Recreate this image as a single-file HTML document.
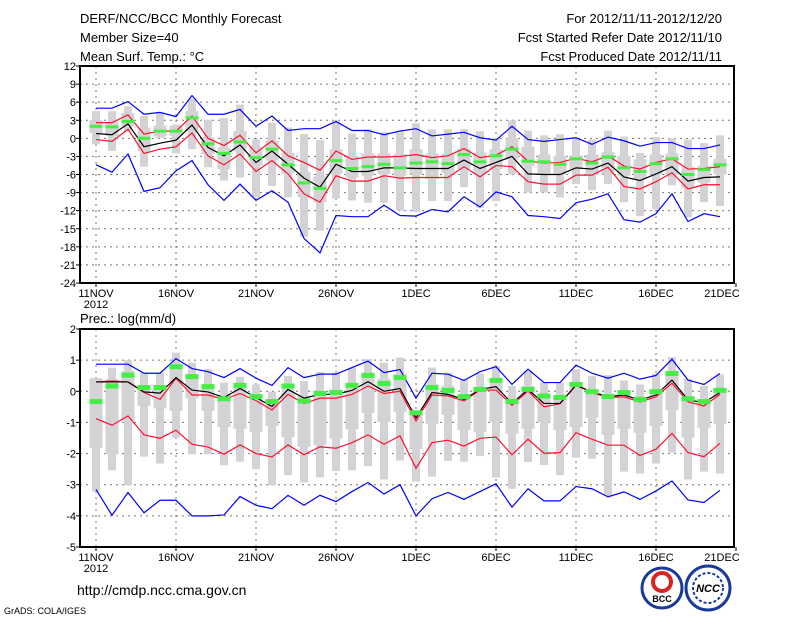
<!DOCTYPE html>
<html><head><meta charset="utf-8"><style>
body{margin:0;background:#fff;width:800px;height:618px;overflow:hidden}
svg text{font-family:"Liberation Sans",sans-serif;fill:#000}
</style></head><body>
<svg id="c" width="800" height="618" xmlns="http://www.w3.org/2000/svg">
<text x="80" y="23" font-size="13">DERF/NCC/BCC Monthly Forecast</text>
<text x="80" y="42" font-size="13">Member Size=40</text>
<text x="80" y="61" font-size="13">Mean Surf. Temp.: °C</text>
<text x="722" y="23" font-size="13" text-anchor="end">For 2012/11/11-2012/12/20</text>
<text x="722" y="42" font-size="13" text-anchor="end">Fcst Started Refer Date 2012/11/10</text>
<text x="722" y="61" font-size="13" text-anchor="end">Fcst Produced Date 2012/11/11</text>
<text x="80" y="323" font-size="13">Prec.: log(mm/d)</text>
<text x="77" y="595" font-size="14">http://cmdp.ncc.cma.gov.cn</text>
<text x="4" y="614" font-size="9">GrADS: COLA/IGES</text>
<g><circle cx="662" cy="588" r="20" fill="#fff" stroke="#1a3a9a" stroke-width="3"/><circle cx="662" cy="582" r="9" fill="none" stroke="#d22" stroke-width="4"/><text x="662" y="602" font-size="9" text-anchor="middle" font-weight="bold">BCC</text></g>
<g><circle cx="708" cy="588" r="22" fill="#fff" stroke="#1a3a9a" stroke-width="3"/><circle cx="708" cy="588" r="15" fill="none" stroke="#1a3a9a" stroke-width="2" stroke-dasharray="3 2"/><text x="708" y="592" font-size="11" text-anchor="middle" font-weight="bold" font-style="italic" fill="#1a3a9a">NCC</text></g>
</svg>
<script>
// ---- temperature data ----
const tBlueHi=[5,5,6.1,4,4.3,3.6,7.1,4,4,4.8,2,3.7,1.3,1.6,1.6,2.8,1.3,1.3,0.6,1.2,1.6,0.4,0.7,1.0,0.1,-0.3,2.0,-0.2,-0.5,-0.2,0.1,-1.0,0.2,-0.4,-1.3,-0.7,-0.7,-1.7,-1.7,-1.1];
const tBlueLo=[-4.4,-5.6,-2.6,-8.8,-8.2,-5.4,-3.7,-7.7,-10.3,-7.6,-10.3,-8.7,-10.6,-16.6,-19,-12.8,-13,-13,-11.1,-12.8,-12.9,-11.8,-12.2,-9.7,-11.4,-8.9,-9.7,-12.8,-13,-13.3,-10.7,-10.1,-9.2,-13.5,-13.9,-12.5,-9.2,-13.8,-12.5,-13];
const tRedHi=[2.6,2.6,3.9,0.7,1.2,1.2,3.7,0,-1.2,0.5,-2.4,-0.4,-2.9,-4,-5.3,-2.1,-3.5,-3.1,-3.1,-3,-2.7,-3.2,-2.9,-1.7,-3.2,-2.8,-1.4,-3.8,-4.1,-4,-3.3,-3.9,-2.9,-4.6,-5.1,-4,-3.4,-5.1,-5,-4.7];
const tRedLo=[-0.2,-0.5,1.5,-2.5,-1.8,-1.4,0.9,-2.9,-4.4,-2.6,-5.5,-3.7,-5.9,-9.2,-10.6,-6.2,-7.1,-7.1,-6.2,-6.6,-6.5,-6.5,-6.5,-4.7,-6.4,-4.5,-4.7,-7.2,-7.6,-7.6,-6.1,-6.1,-4.8,-8,-8.4,-7.2,-5.7,-8.4,-7.7,-7.7];
const tMean=[0.8,0.6,2.4,-1.4,-0.8,-0.3,2.2,-1.5,-2.9,-1.1,-4,-2.1,-4.3,-6.6,-8.1,-4.3,-5.5,-5.5,-4.9,-4.9,-5,-5,-5,-3.6,-5,-4,-3,-5.9,-6,-6,-4.9,-5.1,-4.1,-6.4,-7,-5.9,-4.7,-7.1,-6.5,-6.4];
const tObs=[2.0,1.9,2.8,0,1.2,1.2,3.4,-0.9,-2.5,-0.6,-3.2,-1.8,-4.4,-7.4,-8.3,-3.7,-5,-4.7,-4.3,-4.9,-4.1,-3.9,-4.2,-2.7,-3.9,-2.9,-1.8,-3.8,-3.9,-4.3,-3.4,-4.1,-3.1,-4.9,-5.5,-4.2,-3.4,-6,-5.2,-4.4];
const tWTop=[4.5,4.5,5.3,3.7,4.2,2.3,6.6,3.1,3.4,5.6,-0.2,2.6,1.8,0.7,-0.3,2.8,0.8,1.5,1,1,2.5,1.5,1.5,1.5,1.2,0.1,3,1.3,0.5,0.7,-0.2,-0.2,1.3,0.3,-2.4,0.2,0,-0.2,-0.8,0.5];
const tWBot=[-1,-2.1,1.2,-4.7,0.1,-2.5,-1.8,-4.8,-7,-6.5,-9.8,-7.9,-9.8,-16.3,-15.3,-10,-10.3,-10.7,-10.7,-12,-12.2,-10.4,-10.4,-8.1,-11.5,-10.4,-6,-9,-9,-9.8,-7.6,-8.6,-7.6,-10.6,-12.9,-11.8,-7.8,-13.1,-10.6,-11.2];
const tBTop=[3,2.7,4.2,1.8,2.1,2.1,4.5,0.1,-1.5,1.2,-1.5,-0.4,-2.4,-5.6,-6.3,-1.8,-2.9,-2.5,-2.5,-2.6,-1.8,-2.5,-2.6,-1.7,-2.4,-1.8,0,-1.4,-2.7,-2.9,-2.8,-2.7,-2.3,-2.9,-3.5,-2.7,-2.5,-4.7,-4.6,-3.4];
const tBBot=[0.9,0.4,2,-2.1,0.3,0.4,1.2,-2.6,-5.1,-2.2,-4.5,-3.7,-5.9,-9.8,-10.6,-5.9,-6.5,-6.2,-5.9,-6.2,-6,-6.8,-5.8,-5.1,-6,-5.1,-3.5,-4.6,-6,-6,-5.1,-6.1,-6,-6.2,-6.8,-6,-6,-8.2,-7.3,-6];
const tTicks=[12,9,6,3,0,-3,-6,-9,-12,-15,-18,-21,-24];
// ---- precipitation data ----
const pBlueHi=[0.87,0.87,0.87,0.58,0.58,1.05,0.73,0.63,0.44,0.73,0.42,0.19,0.76,0.44,0.55,0.55,0.76,0.97,0.6,0.7,-0.22,0.58,0.55,0.35,0.63,0.79,0.22,0.71,0.28,0.28,0.84,0.58,0.42,0.58,0.39,0.51,1.03,0.36,0.22,0.57];
const pBlueLo=[-3.15,-3.98,-3.25,-3.9,-3.5,-3.5,-4,-4,-3.97,-3.38,-3.66,-3.77,-3.34,-3.66,-3.34,-3.54,-3.22,-2.93,-3.3,-3.0,-4,-3.45,-3.25,-3.47,-3.22,-2.97,-3.72,-3.13,-3.52,-3.52,-3.06,-3.13,-3.39,-3.23,-3.47,-3.2,-2.88,-3.49,-3.57,-3.18];
const pRedHi=[0.3,0.33,0.3,-0.04,-0.26,0.42,-0.12,-0.12,-0.26,-0.07,-0.3,-0.6,-0.1,-0.39,-0.22,-0.22,-0.1,0.17,-0.07,0,-0.95,-0.12,-0.15,-0.31,0.04,0.04,-0.45,0.01,-0.5,-0.4,0.19,-0.04,-0.2,-0.18,-0.34,-0.18,0.26,-0.34,-0.47,-0.1];
const pRedLo=[-0.88,-1.09,-0.79,-1.4,-1.51,-1.25,-1.7,-1.79,-2.02,-1.72,-2,-2.11,-1.72,-2.04,-1.78,-1.83,-1.65,-1.4,-1.7,-1.43,-2.47,-1.65,-1.57,-1.76,-1.51,-1.47,-2.04,-1.54,-1.99,-1.97,-1.33,-1.54,-1.73,-1.73,-2.06,-1.86,-1.35,-1.97,-2.1,-1.67];
const pMean=[0.3,0.3,0.3,-0.02,-0.06,0.44,0.04,-0.02,-0.2,0.09,-0.2,-0.49,0.06,-0.22,-0.1,-0.1,0.03,0.31,0,0.09,-0.85,-0.04,-0.1,-0.26,0.06,0.15,-0.39,0.06,-0.39,-0.39,0.2,-0.02,-0.17,-0.12,-0.28,-0.12,0.36,-0.28,-0.36,-0.04];
const pObs=[-0.33,0.17,0.52,0.12,0.12,0.79,0.47,0.15,-0.24,0.19,-0.17,-0.33,0.17,-0.31,-0.07,-0.04,0.19,0.51,0.25,0.44,-0.69,0.12,0.03,-0.17,0.06,0.35,-0.33,0.06,-0.15,-0.2,0.22,-0.01,-0.17,-0.04,-0.26,-0.01,0.57,-0.24,-0.33,0.03];
const pWTop=[0.42,0.76,1,0.6,0.6,1.24,0.92,0.71,0.28,0.46,0.22,-0.01,0.49,0.33,0.62,0.6,0.76,1.03,0.92,1.08,-0.63,0.76,0.6,0.39,0.57,0.81,0.17,0.65,0.28,0.28,0.71,0.49,0.52,0.35,0.22,0.57,1.1,0.39,0.17,0.54];
const pWBot=[-3.22,-2.54,-3.02,-2.1,-2.32,-1.49,-2.02,-2.02,-2.38,-2.26,-2.5,-3.02,-2.69,-2.93,-2.77,-2.56,-2.54,-2.4,-2.83,-2.22,-2.9,-2.74,-2.24,-2.26,-2.08,-2.77,-3.13,-2.27,-2.37,-2.69,-2.13,-2.16,-3.36,-2.58,-2.64,-2.32,-1.97,-2.83,-2.58,-2.64];
const pBTop=[0.42,0.39,0.65,0.17,0.17,0.87,0.55,0.22,-0.1,0.12,-0.15,-0.31,0.17,-0.15,-0.04,0.06,0.25,0.6,0.39,0.55,-0.63,0.22,0.17,-0.1,0.06,0.44,-0.36,0.17,-0.22,-0.22,0.28,0,-0.18,-0.04,-0.29,0.03,0.6,-0.22,-0.29,0];
const pBBot=[-1.81,-2.02,-0.95,-0.47,-0.55,-0.63,-0.22,-0.63,-1.15,-1.2,-1.3,-1.11,-1.47,-1.79,-1.72,-1.52,-1.22,-0.69,-0.99,-0.66,-1.86,-1.04,-0.76,-1.25,-1.31,-0.99,-1.36,-1.2,-1,-1.25,-1.15,-0.85,-1.4,-1.2,-1.33,-1.11,-0.6,-1.49,-1.17,-1.06];
const pTicks=[2,1,0,-1,-2,-3,-4,-5];
const xLabels=["11NOV","16NOV","21NOV","26NOV","1DEC","6DEC","11DEC","16DEC","21DEC"];

const NS="http://www.w3.org/2000/svg";
const svg=document.getElementById('c');
function mk(tag,attrs,parent){const e=document.createElementNS(NS,tag);for(const k in attrs)e.setAttribute(k,attrs[k]);(parent||svg).appendChild(e);return e;}
const X0=80,X1=734;
function xs(d){return 96+16*d;}

function panel(o){
  const ys=v=>o.yT+(o.vMax-v)*(o.yB-o.yT)/(o.vMax-o.vMin);
  const g=mk('g',{});
  
  
  // grid
  o.ticks.forEach(t=>{
    const y=ys(t);
    if(t!==o.vMax&&t!==o.vMin){const l=mk('line',{x1:X0,x2:X1,y1:y,y2:y,stroke:'#777','stroke-width':1,'stroke-dasharray':'2 4'},g);
    
    }
    const tk=mk('line',{x1:X0-4,x2:X0,y1:y,y2:y,stroke:'#000','stroke-width':1},g);
    const tx=mk('text',{x:X0-4,y:y+4,'font-size':11,'text-anchor':'end'},g);tx.textContent=t;
    
    
  });
  xLabels.forEach((lab,i)=>{
    const x=xs(i*5);
    if(i<8){const l=mk('line',{x1:x,x2:x,y1:o.yT,y2:o.yB,stroke:'#777','stroke-width':1,'stroke-dasharray':'2 4'},g);
    
    }
    mk('line',{x1:x,x2:x,y1:o.yB,y2:o.yB+4,stroke:'#000'},g);
    const tx=mk('text',{x:i==8?722:x,y:o.yB+14,'font-size':11,'text-anchor':'middle'},g);tx.textContent=lab;
    
    
  });
  const yr=mk('text',{x:96,y:o.yB+25,'font-size':11,'text-anchor':'middle'},g);yr.textContent='2012';
  
  
  // bars
  for(let d=0;d<o.wTop.length;d++){
    const x=xs(d);
    const w=mk('rect',{x:x-4,y:ys(o.wTop[d]),width:8,height:ys(o.wBot[d])-ys(o.wTop[d]),fill:'#d3d3d6'},g);
    
    
    const b=mk('rect',{x:x-6.5,y:ys(o.bTop[d]),width:13,height:ys(o.bBot[d])-ys(o.bTop[d]),fill:'#d3d3d6'},g);
    
    
  }
  const line=(arr,col,nm)=>{const p=mk('polyline',{points:arr.map((v,d)=>xs(d)+','+ys(v)).join(' '),fill:'none',stroke:col,'stroke-width':1.2},g);
    
    };
  line(o.blueHi,'#0000ff','max-line');line(o.blueLo,'#0000ff','min-line');
  line(o.redHi,'#ff1030','upper-spread-line');line(o.redLo,'#ff1030','lower-spread-line');
  line(o.mean,'#000','ensemble-mean-line');
  o.obs.forEach((v,d)=>{const r=mk('rect',{x:xs(d)-6.5,y:ys(v)-o.gh/2,width:13,height:o.gh,fill:'#44ee44'},g);
    
    });
  const f=mk('rect',{x:X0,y:o.yT,width:X1-X0,height:o.yB-o.yT,fill:'none',stroke:'#000','stroke-width':2},g);
  
  
}
panel({name:'temperature-panel',yT:66,yB:283,vMax:12,vMin:-24,ticks:tTicks,blueHi:tBlueHi,blueLo:tBlueLo,redHi:tRedHi,redLo:tRedLo,mean:tMean,obs:tObs,wTop:tWTop,wBot:tWBot,bTop:tBTop,bBot:tBBot,gh:3});
panel({name:'precip-panel',yT:329,yB:547,vMax:2,vMin:-5,ticks:pTicks,blueHi:pBlueHi,blueLo:pBlueLo,redHi:pRedHi,redLo:pRedLo,mean:pMean,obs:pObs,wTop:pWTop,wBot:pWBot,bTop:pBTop,bBot:pBBot,gh:5});
</script>
</body></html>
